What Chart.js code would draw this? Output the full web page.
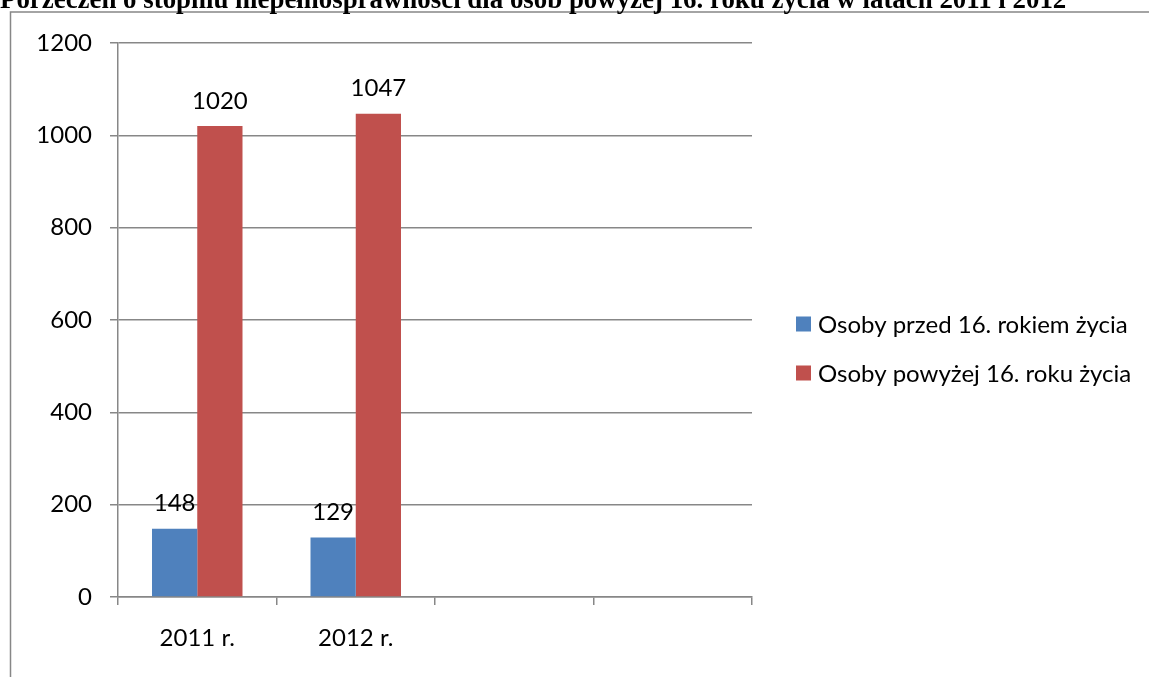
<!DOCTYPE html>
<html>
<head>
<meta charset="utf-8">
<script src="https://cdn.jsdelivr.net/npm/chart.js@4"></script>
<style>
html,body{margin:0;padding:0;background:#fff;overflow:hidden;}
#wrap{position:relative;width:1149px;height:677px;}
</style>
</head>
<body>
<div id="wrap"><canvas id="c" width="1149" height="677"></canvas></div>
<script>
const titleText = 'Porzeczeń o stopniu niepełnosprawności dla osób powyżej 16. roku życia w latach 2011 i 2012';
const categories = ['2011 r.', '2012 r.', '', ''];
const seriesNames = ['Osoby przed 16. rokiem życia', 'Osoby powyżej 16. roku życia'];
const under16 = [148, 129, null, null];
const over16 = [1020, 1047, null, null];
const yTicks = [0, 200, 400, 600, 800, 1000, 1200];

const FONT = 'Lato, "DejaVu Sans", sans-serif';
const FS = 24;
const GRAY = '#878787';

const decor = {
  id: 'decor',
  afterDraw(chart) {
    const ctx = chart.ctx;
    ctx.save();
    // frame
    ctx.strokeStyle = GRAY;
    ctx.lineWidth = 1.5;
    ctx.beginPath();
    ctx.moveTo(10.5, 700);
    ctx.lineTo(10.5, 12);
    ctx.lineTo(1160, 12);
    ctx.stroke();
    // title (clipped at top)
    ctx.fillStyle = '#000';
    ctx.textBaseline = 'alphabetic';
    ctx.textAlign = 'left';
    ctx.font = 'bold 100px "Liberation Serif", serif';
    const w = ctx.measureText(titleText).width;
    const fs = 100 * 1067 / w;
    ctx.font = 'bold ' + fs.toFixed(2) + 'px "Liberation Serif", serif';
    ctx.fillText(titleText, 0, 8);
    // data labels
    ctx.font = FS + 'px ' + FONT;
    ctx.textAlign = 'center';
    ctx.textBaseline = 'middle';
    chart.data.datasets.forEach((ds, di) => {
      const meta = chart.getDatasetMeta(di);
      meta.data.forEach((bar, i) => {
        const v = ds.data[i];
        if (v === null || v === undefined) return;
        ctx.fillText(String(v), bar.x, bar.y - 25);
      });
    });
    // legend
    ctx.textAlign = 'left';
    const ys = [324, 373];
    chart.data.datasets.forEach((ds, di) => {
      ctx.fillStyle = ds.backgroundColor;
      ctx.fillRect(796, ys[di] - 7.5, 15, 15);
      ctx.fillStyle = '#000';
      ctx.fillText(ds.label, 818, ys[di] + 1);
    });
    ctx.restore();
  }
};

new Chart(document.getElementById('c'), {
  type: 'bar',
  data: {
    labels: categories,
    datasets: [
      { label: seriesNames[0], data: under16, backgroundColor: '#4F81BD', borderWidth: 0 },
      { label: seriesNames[1], data: over16, backgroundColor: '#C0504D', borderWidth: 0 }
    ]
  },
  options: {
    responsive: false,
    animation: false,
    devicePixelRatio: 1,
    layout: { padding: { left: 0, top: 43, right: 397, bottom: 0 } },
    datasets: { bar: { categoryPercentage: 0.571, barPercentage: 1.0 } },
    plugins: { legend: { display: false }, tooltip: { enabled: false }, title: { display: false } },
    scales: {
      x: {
        grid: { display: true, offset: true, drawOnChartArea: false, drawTicks: true, tickLength: 8, color: GRAY, lineWidth: 1.5 },
        border: { display: true, color: GRAY, width: 1.5 },
        ticks: { color: '#000', font: { family: FONT, size: FS }, padding: 19, maxRotation: 0, autoSkip: false },
        afterFit(scale) { scale.height = 80; }
      },
      y: {
        min: 0, max: 1200,
        afterBuildTicks(scale) { scale.ticks = yTicks.map(v => ({ value: v })); },
        grid: { display: true, drawOnChartArea: true, drawTicks: true, tickLength: 8, color: GRAY, lineWidth: 1.5 },
        border: { display: true, color: GRAY, width: 1.5 },
        ticks: { color: '#000', font: { family: FONT, size: FS }, padding: 18, callback: v => String(v) },
        afterFit(scale) { scale.width = 118; }
      }
    }
  },
  plugins: [decor]
});
</script>
</body>
</html>
